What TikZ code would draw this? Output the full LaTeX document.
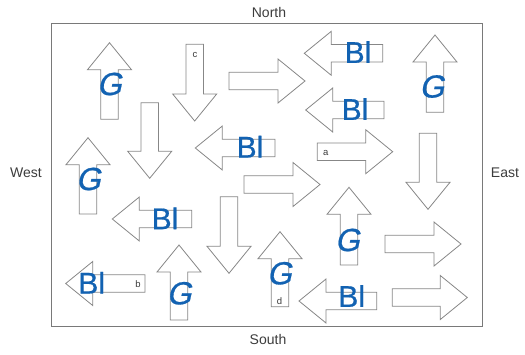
\documentclass[tikz,border=0pt]{standalone}
\usepackage{fontspec}
\setmainfont{Liberation Sans}
\newfontfamily\penG[FakeSlant=0.22,FakeBold=0.6]{Liberation Sans}
\newfontfamily\penB[FakeBold=0.6]{Liberation Sans}
\definecolor{pen}{RGB}{18,98,178}
\definecolor{ink}{RGB}{60,60,60}
\definecolor{edge}{RGB}{135,135,135}
\tikzset{
  arrowshape/.style={draw=edge, line width=0.8pt, fill=white, line join=miter},
  frame/.style={draw=edge!90!black, line width=1.2pt},
  compass/.style={text=ink, font=\fontsize{14}{16}\selectfont, inner sep=0pt},
  tag/.style={text=ink, font=\fontsize{9.5}{10}\selectfont, inner sep=0pt},
  bl/.style={text=pen, font=\penB\fontsize{30}{32}\selectfont, inner sep=0pt},
  gg/.style={text=pen, font=\penG\fontsize{32}{34}\selectfont, inner sep=0pt}
}
% #1 tail x, #2 tail y, #3 angle, #4 length
\newcommand\bigarrow[4]{%
  \draw[arrowshape, shift={(#1,#2)}, rotate=#3]
    (0,-8.75) -- ({#4-27},-8.75) -- ({#4-27},-22) -- (#4,0)
    -- ({#4-27},22) -- ({#4-27},8.75) -- (0,8.75) -- cycle;}
\begin{document}
\begin{tikzpicture}[x=1pt,y=-1pt]
\useasboundingbox (0,0) rectangle (525,354);
\draw[frame] (51.5,23.3) rectangle (482.5,326.7);
\node[compass] (north) at (269,12) {North};
\node[compass] (south) at (268,339.5) {South};
\node[compass] (west) at (26,173) {West};
\node[compass] (east) at (505,173) {East};
% arrows
\bigarrow{109.5}{119.3}{90}{76.6}
\bigarrow{194.7}{44.3}{-90}{76.7}
\bigarrow{229}{81}{0}{76}
\bigarrow{382.7}{53.3}{180}{78.4}
\bigarrow{384}{110}{180}{78.3}
\bigarrow{435}{112.3}{90}{77.3}
\bigarrow{317.3}{151.7}{0}{75.4}
\bigarrow{428}{133.3}{-90}{76}
\bigarrow{275}{148}{180}{79.7}
\bigarrow{149.7}{102.7}{-90}{75.6}
\bigarrow{88}{214}{90}{76.3}
\bigarrow{244}{184.5}{0}{76}
\bigarrow{191.7}{219}{180}{79.4}
\bigarrow{229}{196.7}{-90}{76.6}
\bigarrow{349}{265}{90}{77.7}
\bigarrow{385}{244}{0}{76}
\bigarrow{145}{283.5}{180}{79.3}
\bigarrow{179}{320}{90}{75}
\bigarrow{280}{306.7}{90}{75}
\bigarrow{376.7}{301}{180}{77.7}
\bigarrow{392.3}{297.5}{0}{75}
% small tags
\node[tag] (tc) at (195,54.5) {c};
\node[tag] (ta) at (325.7,152.7) {a};
\node[tag] (tb) at (138,284) {b};
\node[tag] (td) at (279.5,300.7) {d};
% handwritten labels
\node[gg] (g1) at (109.3,84) {G};
\node[gg] (g2) at (88.3,179) {G};
\node[gg] (g3) at (431.7,86.5) {G};
\node[gg] (g4) at (179,293.3) {G};
\node[gg] (g5) at (347.3,240) {G};
\node[gg] (g6) at (279.3,273.3) {G};
\node[bl] (b1) at (358,52) {Bl};
\node[bl] (b2) at (355,109) {Bl};
\node[bl] (b3) at (250,146.7) {Bl};
\node[bl] (b4) at (165,218.3) {Bl};
\node[bl] (b5) at (91.7,282.7) {Bl};
\node[bl] (b6) at (351.7,296) {Bl};
\end{tikzpicture}
\end{document}
